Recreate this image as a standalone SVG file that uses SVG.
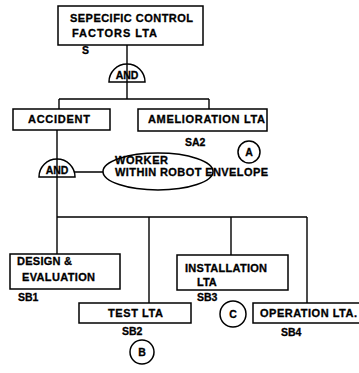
<svg xmlns="http://www.w3.org/2000/svg" width="359" height="373" viewBox="0 0 359 373">
<style>
.b{fill:none;stroke:#000;stroke-width:1.5}
.l{fill:none;stroke:#000;stroke-width:1.4}
text{font-family:"Liberation Sans",Arial,sans-serif;font-weight:bold;font-size:11px;fill:#000;stroke:#000;stroke-width:0.3}
.s{font-size:10.5px}
.g{font-size:10.5px}
</style>
<rect width="359" height="373" fill="#fff"/>
<g id="connectors">
<path class="l" d="M127,45V99M59,99H209M59,99V109M209,99V109"/>
<path class="l" d="M57,130V254M57,217H307M149,217V303M231,217V255M307,217V303M74,172H103"/>
</g>
<g id="top">
<rect class="b" x="58" y="6" width="145" height="39"/>
<text x="70" y="22" textLength="123">SEPECIFIC CONTROL</text>
<text x="72" y="37" textLength="85">FACTORS LTA</text>
<text class="s" x="82" y="54">S</text>
</g>
<g id="and1">
<path class="b" d="M109,82A18,18 0 0 1 145,82Z"/>
<text class="g" x="127" y="79" text-anchor="middle">AND</text>
</g>
<g id="accident">
<rect class="b" x="13" y="109" width="97" height="21"/>
<text x="28" y="123" textLength="62">ACCIDENT</text>
</g>
<g id="amelioration">
<rect class="b" x="138" y="109" width="129" height="22"/>
<text x="148" y="123" textLength="117">AMELIORATION LTA</text>
<text class="s" x="185" y="146">SA2</text>
</g>
<g id="circleA">
<circle class="b" cx="249" cy="152" r="11"/>
<text class="s" x="249" y="156" text-anchor="middle">A</text>
</g>
<g id="and2">
<path class="b" d="M39,177A18,18 0 0 1 75,177Z"/>
<text class="g" x="57" y="174" text-anchor="middle">AND</text>
</g>
<g id="worker">
<ellipse class="b" cx="158" cy="171.5" rx="55" ry="18.5"/>
<text x="115" y="164" textLength="53">WORKER</text>
<text x="115" y="176" textLength="153">WITHIN ROBOT ENVELOPE</text>
</g>
<g id="design">
<rect class="b" x="10" y="254" width="110" height="35"/>
<text x="17" y="265" textLength="55">DESIGN &amp;</text>
<text x="22" y="281" textLength="73">EVALUATION</text>
<text class="s" x="18" y="301">SB1</text>
</g>
<g id="test">
<rect class="b" x="79" y="303" width="112" height="20"/>
<text x="108" y="317" textLength="55">TEST LTA</text>
<text class="s" x="122" y="335">SB2</text>
</g>
<g id="circleB">
<circle class="b" cx="142" cy="352" r="12"/>
<text class="s" x="142" y="356" text-anchor="middle">B</text>
</g>
<g id="installation">
<rect class="b" x="177" y="255" width="111" height="35"/>
<text x="185" y="272" textLength="82">INSTALLATION</text>
<text x="197" y="286">LTA</text>
<text class="s" x="197" y="301">SB3</text>
</g>
<g id="circleC">
<circle class="b" cx="233" cy="314" r="13"/>
<text class="s" x="233" y="318" text-anchor="middle">C</text>
</g>
<g id="operation">
<rect class="b" x="253" y="303" width="111" height="20"/>
<text x="260" y="317" textLength="97">OPERATION LTA.</text>
<text class="s" x="281" y="336">SB4</text>
</g>
</svg>
